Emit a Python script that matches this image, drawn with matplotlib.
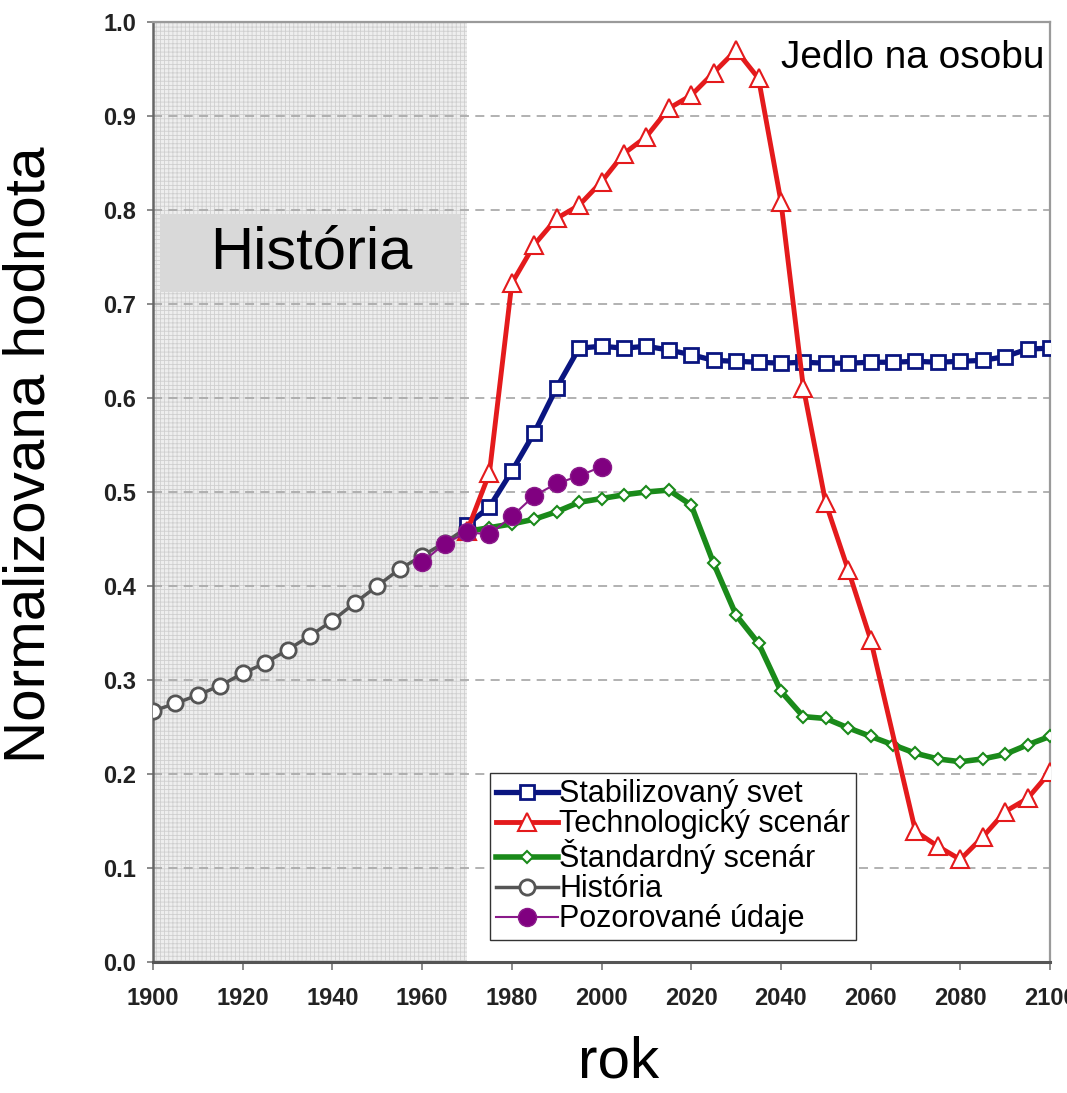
import matplotlib
matplotlib.use('Agg')
import matplotlib.pyplot as plt
from matplotlib.patches import Rectangle

plt.rcParams['font.family'] = ['Liberation Sans', 'DejaVu Sans']
plt.rcParams['hatch.linewidth'] = 0.6

# historical series (every 5 years)
hist_years = [1900, 1905, 1910, 1915, 1920, 1925, 1930, 1935, 1940, 1945,
              1950, 1955, 1960, 1965, 1970]
hist_vals = [0.267, 0.275, 0.284, 0.294, 0.307, 0.318, 0.332, 0.347, 0.363, 0.382,
             0.400, 0.418, 0.432, 0.446, 0.462]

# observed data
obs_years = [1960, 1965, 1970, 1975, 1980, 1985, 1990, 1995, 2000]
obs_vals = [0.425, 0.445, 0.457, 0.455, 0.474, 0.496, 0.509, 0.517, 0.527]

scen_years = list(range(1970, 2101, 5))

stab_vals = [0.465, 0.484, 0.522, 0.563, 0.611, 0.653, 0.655, 0.653, 0.655, 0.651,
             0.646, 0.640, 0.639, 0.638, 0.637, 0.638, 0.637, 0.637, 0.638, 0.638,
             0.639, 0.638, 0.639, 0.640, 0.644, 0.652, 0.653]

std_vals = [0.458, 0.462, 0.466, 0.471, 0.479, 0.489, 0.493, 0.497, 0.500, 0.502,
            0.486, 0.424, 0.369, 0.339, 0.288, 0.261, 0.259, 0.249, 0.240, 0.231,
            0.222, 0.216, 0.213, 0.216, 0.221, 0.231, 0.240]

# technology scenario has no point in 2065
tech_years = [1970, 1975, 1980, 1985, 1990, 1995, 2000, 2005, 2010, 2015, 2020,
              2025, 2030, 2035, 2040, 2045, 2050, 2055, 2060, 2070, 2075, 2080,
              2085, 2090, 2095, 2100]
tech_vals = [0.458, 0.520, 0.722, 0.763, 0.791, 0.805, 0.830, 0.860, 0.878, 0.908,
             0.922, 0.946, 0.970, 0.940, 0.809, 0.611, 0.488, 0.417, 0.343, 0.139,
             0.123, 0.109, 0.133, 0.160, 0.174, 0.202]

fig = plt.figure(figsize=(10.67, 10.93), dpi=100)
ax = fig.add_axes([0.1434, 0.1199, 0.8407, 0.860])

# shaded history period with fine grid pattern
ax.axvspan(1900, 1970, facecolor='#eeeeee', edgecolor='#cfcfcf', hatch='++++',
           linewidth=0, zorder=0)
ax.add_patch(Rectangle((1901.6, 0.713), 66.9, 0.083, facecolor='#d9d9d9',
                       edgecolor='none', zorder=1))
ax.text(1935.2, 0.754, 'História', ha='center', va='center', fontsize=43, zorder=2)

ax.yaxis.grid(True, linestyle=(0, (5, 3.5)), color='#ababab', linewidth=1.3)
ax.set_axisbelow('line')

h_hist, = ax.plot(hist_years, hist_vals, color='#555555', lw=2.5, marker='o', ms=11,
                  mfc='white', mec='#555555', mew=2, label='História', zorder=3)
h_std, = ax.plot(scen_years, std_vals, color='#1a8a1a', lw=4, marker='D', ms=6.5,
                 mfc='white', mec='#1a8a1a', mew=1.5, label='Štandardný scenár', zorder=4)
h_stab, = ax.plot(scen_years, stab_vals, color='#0a1580', lw=3.8, marker='s', ms=10,
                  mfc='white', mec='#0a1580', mew=2, label='Stabilizovaný svet', zorder=5)
h_tech, = ax.plot(tech_years, tech_vals, color='#e41a1c', lw=3.5, marker='^', ms=13,
                  mfc='white', mec='#e41a1c', mew=1.5, label='Technologický scenár', zorder=6)
h_obs, = ax.plot(obs_years, obs_vals, color='#8a1a8a', lw=1.5, marker='o', ms=13,
                 mfc='#800080', mec='#8a1a8a', label='Pozorované údaje', zorder=7)

ax.set_xlim(1900, 2100)
ax.set_ylim(0, 1.0)
ax.set_xticks(range(1900, 2101, 20))
ax.set_yticks([i / 10 for i in range(11)])
ax.set_yticklabels([f'{i / 10:.1f}' for i in range(11)])
for lab in ax.get_xticklabels() + ax.get_yticklabels():
    lab.set_fontweight('bold')
    lab.set_color('#222222')
ax.tick_params(axis='x', direction='out', length=6, width=1.2, color='#777777',
               labelsize=17, pad=12)
ax.tick_params(axis='y', direction='out', length=4, width=1.2, color='#777777',
               labelsize=17, pad=8)

ax.spines['left'].set_color('#666666')
ax.spines['left'].set_linewidth(1.8)
ax.spines['bottom'].set_color('#555555')
ax.spines['bottom'].set_linewidth(2.2)
for side in ('top', 'right'):
    ax.spines[side].set_color('#9a9a9a')
    ax.spines[side].set_linewidth(1.6)

ax.text(0.994, 0.962, 'Jedlo na osobu', transform=ax.transAxes, ha='right',
        va='center', fontsize=28, zorder=8)

leg = ax.legend(handles=[h_stab, h_tech, h_std, h_hist, h_obs], loc='lower left',
                bbox_to_anchor=(0.376, 0.023), fontsize=22, frameon=True,
                fancybox=False, edgecolor='#333333', framealpha=1,
                handlelength=2.0, handletextpad=0.05, labelspacing=0.0,
                borderpad=0.2, borderaxespad=0)
leg.get_frame().set_linewidth(1.0)
leg.set_zorder(9)

fig.text(30 / 1067, 1 - 455 / 1093, 'Normalizovana hodnota', rotation=90,
         ha='center', va='center', fontsize=42)
fig.text(619 / 1067, 1 - 1078 / 1093, 'rok', ha='center', va='baseline', fontsize=42)

fig.savefig('out.png', dpi=100)
